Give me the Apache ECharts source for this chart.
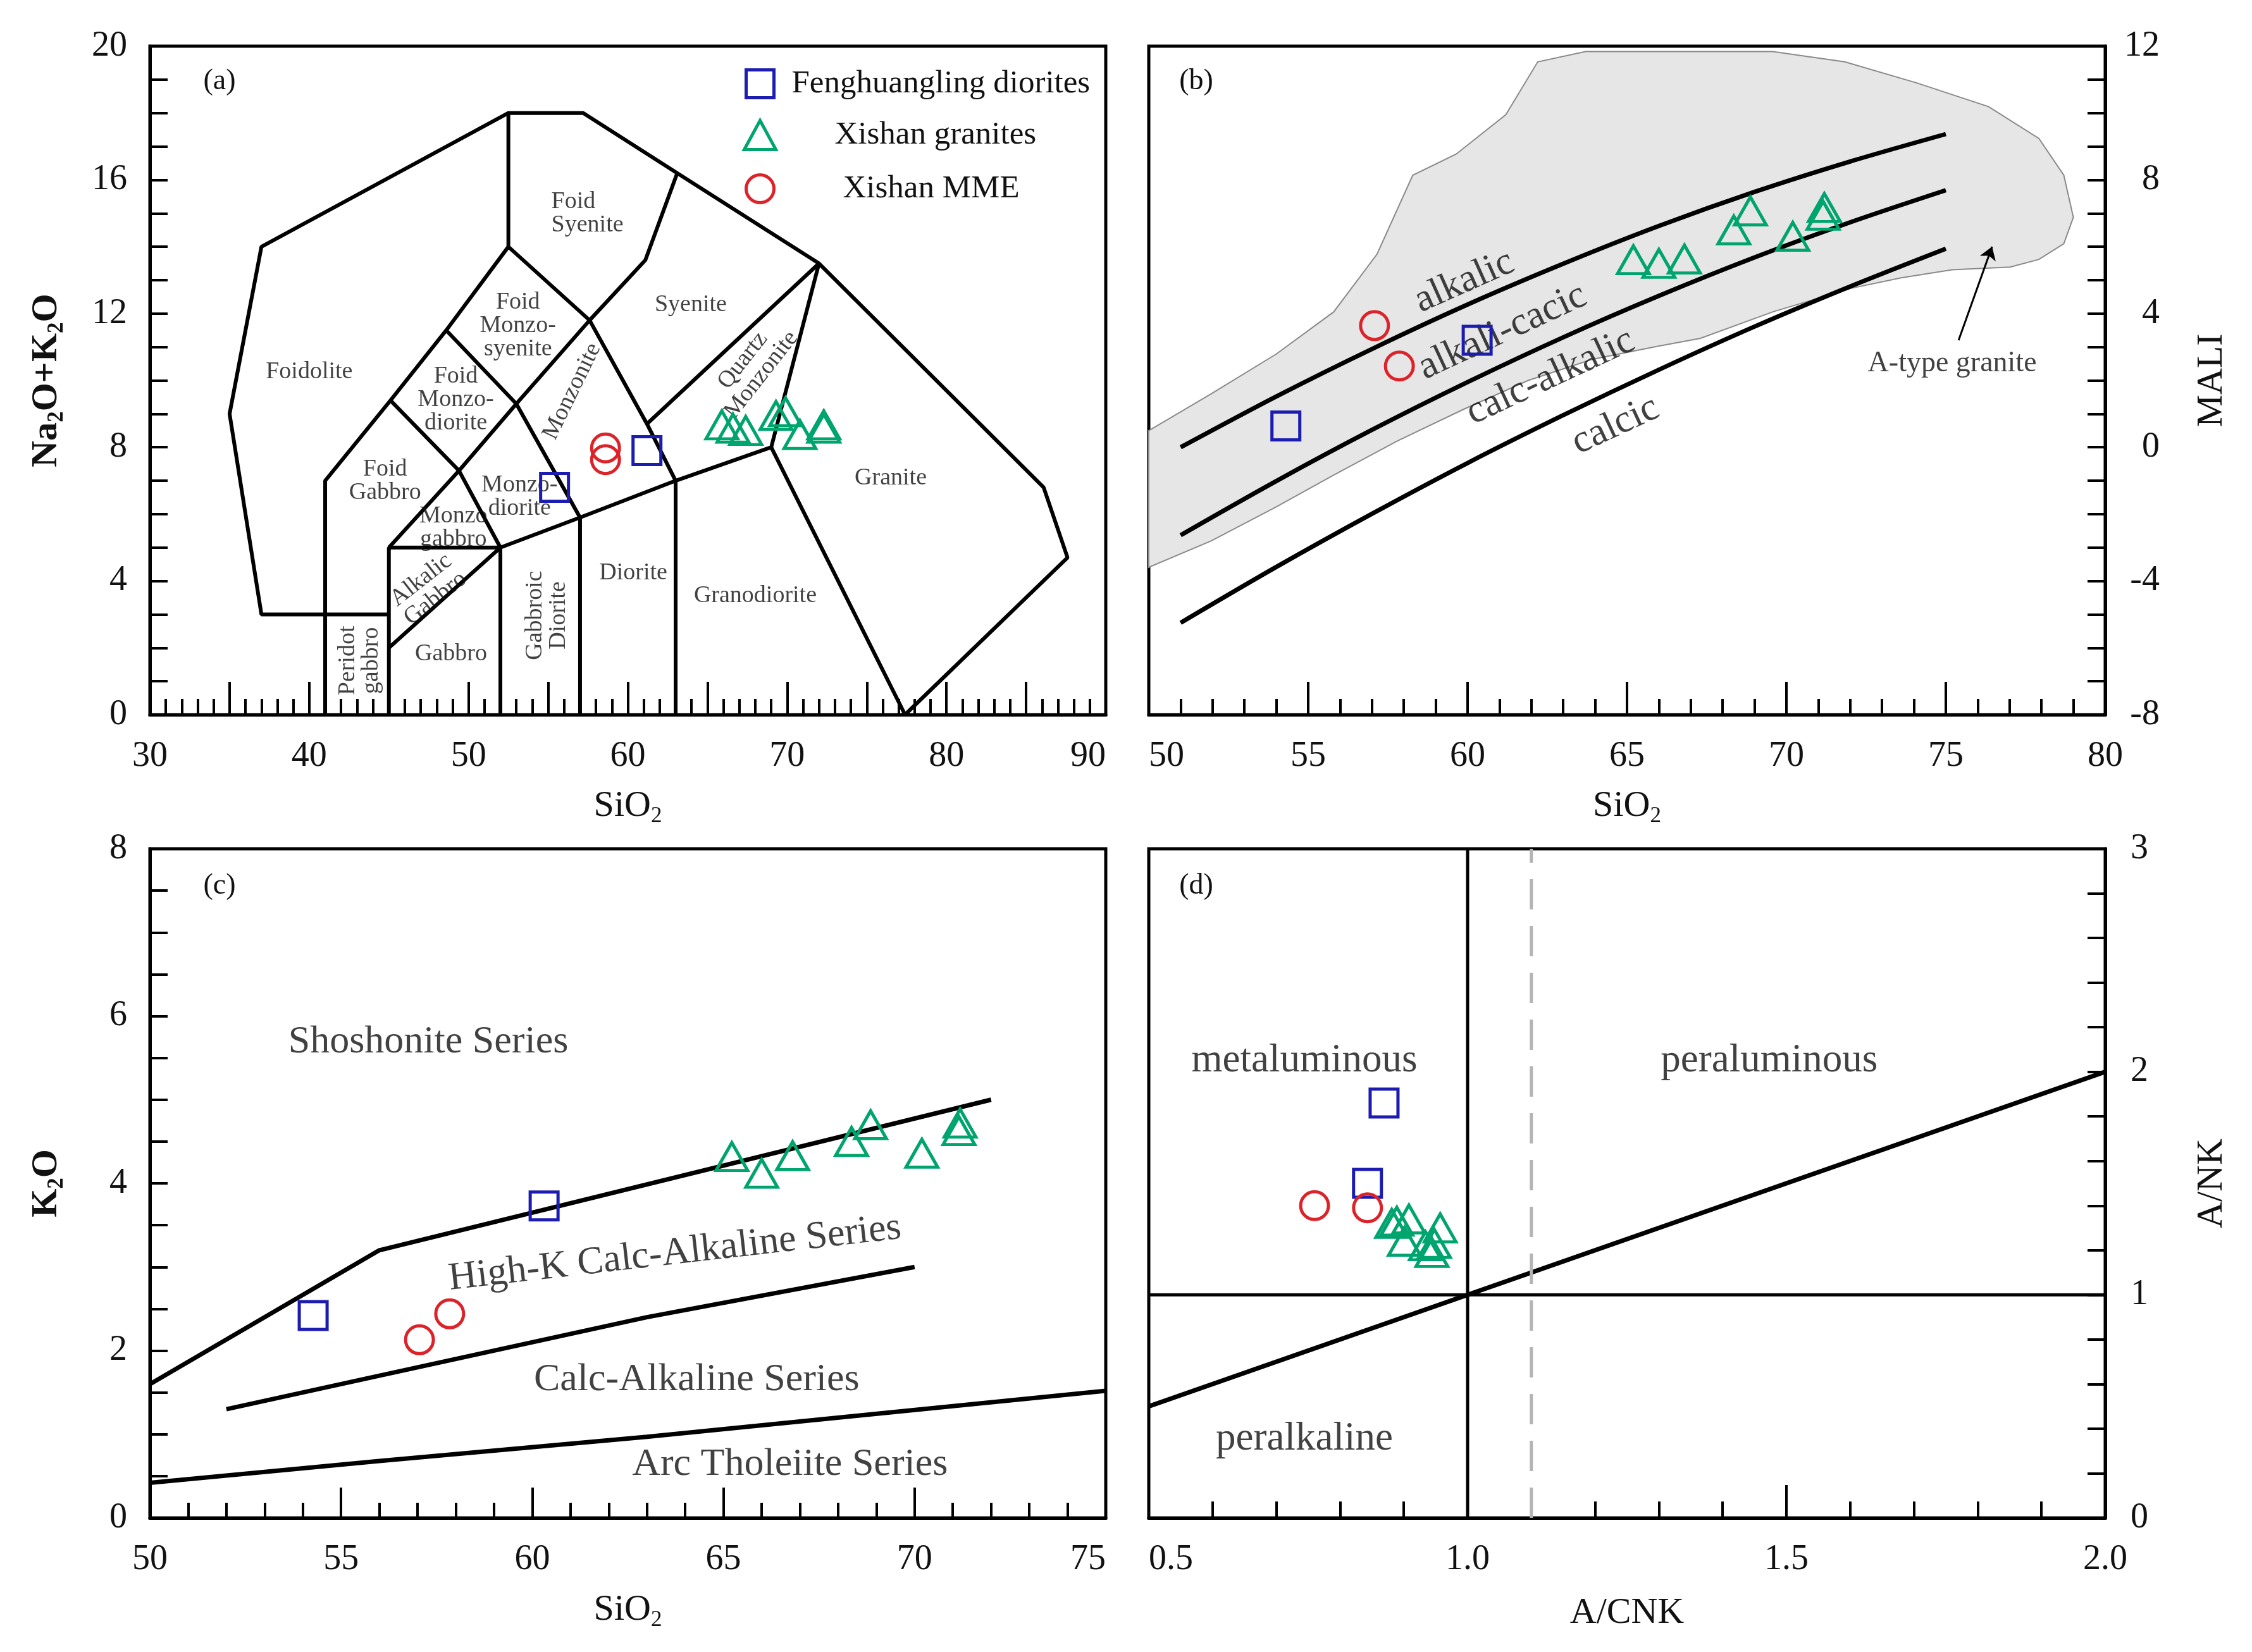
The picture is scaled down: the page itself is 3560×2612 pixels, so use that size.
<!DOCTYPE html>
<html><head><meta charset="utf-8">
<script src="https://cdn.jsdelivr.net/npm/echarts@6.0.0/dist/echarts.min.js"></script>
<style>html,body{margin:0;padding:0;background:#fff}#c{width:3560px;height:2612px}</style>
</head><body><div id="c"></div>
<script>
// ---------------- data ----------------
const seriesNames = ['Fenghuangling diorites', 'Xishan granites', 'Xishan MME'];

// (a) TAS
const tasDiorites = [[55.4, 6.8], [61.2, 7.9]];
const tasGranites = [[65.9, 8.67], [66.6, 8.57], [67.4, 8.5], [69.3, 8.95], [69.9, 9.06], [70.8, 8.38], [72.3, 8.67], [72.3, 8.57]];
const tasMME = [[58.6, 7.98], [58.6, 7.63]];
// (b) MALI
const maliDiorites = [[54.3, 0.64], [60.3, 3.2]];
const maliGranites = [[65.2, 5.61], [66.0, 5.5], [66.8, 5.63], [68.35, 6.5], [68.87, 7.07], [70.2, 6.31], [71.19, 7.17], [71.15, 6.94]];
const maliMME = [[57.08, 3.64], [57.86, 2.43]];
// (c) K2O
const k2oDiorites = [[54.27, 2.42], [60.31, 3.73]];
const k2oGranites = [[65.22, 4.32], [66.0, 4.12], [66.81, 4.33], [68.35, 4.5], [68.85, 4.7], [70.19, 4.36], [71.19, 4.72], [71.16, 4.63]];
const k2oMME = [[57.05, 2.13], [57.84, 2.44]];
// (d) A/NK vs A/CNK
const acnkDiorites = [[0.869, 1.86], [0.843, 1.5]];
const acnkGranites = [[0.881, 1.32], [0.889, 1.33], [0.908, 1.34], [0.901, 1.24], [0.957, 1.30], [0.934, 1.22], [0.944, 1.19], [0.948, 1.23]];
const acnkMME = [[0.76, 1.4], [0.843, 1.39]];

// (a) classification boundaries
const tasOuter = [[45, 3], [37, 3], [35, 9], [37, 14], [52.5, 18], [57.2, 18], [63.1, 16.2], [72, 13.5], [86.1, 6.8], [87.6, 4.7], [77.4, 0]];
const tasLines = [
  [[41, 0], [41, 7], [45.1, 9.4], [48.6, 11.5], [52.5, 14], [52.5, 18]],
  [[52.5, 14], [57.6, 11.8], [61.1, 13.6], [63.1, 16.2]],
  [[48.6, 11.5], [53, 9.3], [57.6, 11.8]],
  [[45.1, 9.4], [49.4, 7.3], [53, 9.3]],
  [[45, 0], [45, 5], [52, 5]],
  [[45, 5], [49.4, 7.3], [52, 5]],
  [[45, 2], [52, 5], [57, 5.9], [63, 7], [69, 8], [72, 13.5]],
  [[52, 0], [52, 5]],
  [[53, 9.3], [57, 5.9], [57, 0]],
  [[57.6, 11.8], [61.2, 8.7], [63, 7], [63, 0]],
  [[61.2, 8.7], [72, 13.5]],
  [[69, 8], [77.4, 0]]
];
const tasLabels = [
  [40.0, 10.25, 'Foidolite', 0],
  [55.2, 15.0, 'Foid\nSyenite', 0, 'left'],
  [63.95, 12.27, 'Syenite', 0],
  [53.1, 11.64, 'Foid\nMonzo-\nsyenite', 0],
  [49.2, 9.43, 'Foid\nMonzo-\ndiorite', 0],
  [56.5, 9.67, 'Monzonite', 64],
  [67.8, 10.38, 'Quartz\nMonzonite', 52],
  [44.76, 6.99, 'Foid\nGabbro', 0],
  [53.2, 6.51, 'Monzo-\ndiorite', 0],
  [49.05, 5.6, 'Monzo\ngabbro', 0],
  [47.47, 3.75, 'Alkalic\nGabbro', 38],
  [43.18, 1.62, 'Peridot\ngabbro', 90],
  [48.9, 1.81, 'Gabbro', 0],
  [54.92, 2.97, 'Gabbroic\nDiorite', 90],
  [60.34, 4.23, 'Diorite', 0],
  [68.0, 3.55, 'Granodiorite', 0],
  [76.5, 7.07, 'Granite', 0]
];

// (b) boundary curves
const maliAlkalic = [[51, 0.0], [54, 1.52], [57, 2.94], [60, 4.27], [63, 5.49], [66, 6.62], [69, 7.64], [72, 8.55], [75, 9.37]];
const maliAlkCalcic = [[51, -2.63], [54, -1.01], [57, 0.52], [60, 1.95], [63, 3.29], [66, 4.53], [69, 5.68], [72, 6.73], [75, 7.69]];
const maliCalcAlk = [[51, -5.25], [54, -3.58], [57, -1.99], [60, -0.47], [63, 0.96], [66, 2.32], [69, 3.61], [72, 4.81], [75, 5.94]];
const atypeOutline = [
  [50, 0.5], [51.96, 1.6], [54.0, 2.79], [55.8, 4.05], [57.16, 5.78], [58.28, 8.14], [59.64, 8.77], [61.2, 9.95],
  [62.2, 11.53], [63.7, 11.84], [69.57, 11.84], [71.83, 11.53], [74.09, 10.9], [76.34, 10.19], [77.92, 9.24],
  [78.7, 8.14], [79.0, 6.88], [78.7, 6.09], [77.92, 5.62], [77.02, 5.39], [75.2, 5.31], [73.6, 5.07], [72.05, 4.76],
  [69.57, 4.05], [67.3, 3.26], [65.96, 3.02], [63.9, 2.63], [61.9, 2.0], [59.86, 1.13], [57.8, 0.19], [55.8, -0.83],
  [54.0, -1.78], [51.96, -2.8], [50, -3.59]
];
const atypeArrow = [[75.4, 3.2], [76.45, 6.0]];
const maliLabels = [
  [59.9, 4.95, 'alkalic', 24],
  [61.1, 3.45, 'alkali-cacic', 25],
  [62.6, 2.1, 'calc-alkalic', 25],
  [64.64, 0.65, 'calcic', 25]
];
const maliNote = [[75.2, 2.5, 'A-type granite', 0]];

// (c) series boundaries
const k2oLines = [
  [[50, 1.6], [56, 3.2], [72, 5.0]],
  [[52, 1.3], [56, 1.7], [63, 2.4], [70, 3.0]],
  [[50, 0.42], [56, 0.68], [63, 0.97], [75, 1.52]]
];
const k2oLabels = [
  [57.28, 5.69, 'Shoshonite Series', 0],
  [63.73, 3.16, 'High-K Calc-Alkaline Series', 6.5],
  [64.3, 1.65, 'Calc-Alkaline Series', 0],
  [66.74, 0.64, 'Arc Tholeiite Series', 0]
];

// (d) boundaries
const anLines = [
  [[1.0, 0], [1.0, 3]],
  [[0.5, 1.0], [2.0, 1.0]],
  [[0.5, 0.5], [2.0, 2.0]]
];
const anDashed = [[1.1, 0], [1.1, 3]];
const anLabels = [
  [0.744, 2.05, 'metaluminous', 0],
  [1.473, 2.05, 'peraluminous', 0],
  [0.744, 0.354, 'peralkaline', 0]
];

// ---------------- styling ----------------
const FONT = "'Liberation Serif', 'Times New Roman', serif";
const BLUE = '#1c1cb0', GREEN = '#00a46e', RED = '#dc2329';
const INK = '#111';

function scatter(name, data, gi, symbol, color, size) {
  return {
    type: 'scatter', name: name, xAxisIndex: gi, yAxisIndex: gi, data: data,
    symbol: symbol, symbolSize: size, z: 10, silent: true,
    itemStyle: { color: 'rgba(0,0,0,0)', borderColor: color, borderWidth: 5, opacity: 1 }
  };
}
function poly(data, gi, width, extra) {
  return Object.assign({
    type: 'line', xAxisIndex: gi, yAxisIndex: gi, data: data, showSymbol: false, symbol: 'none',
    silent: true, z: 4, lineStyle: { color: '#000', width: width }
  }, extra || {});
}
function texts(items, gi, size) {
  return {
    type: 'scatter', xAxisIndex: gi, yAxisIndex: gi, symbolSize: 1, silent: true, z: 6,
    itemStyle: { color: 'rgba(0,0,0,0)' },
    data: items.map(t => ({ name: t[2], value: [t[0], t[1]], label: { rotate: t[3] || 0, align: t[4] || 'center' } })),
    label: {
      show: true, position: 'inside', formatter: p => p.name, color: INK,
      fontFamily: FONT, fontSize: size, lineHeight: Math.round(size * 0.98), verticalAlign: 'middle'
    }
  };
}
function nameStyle(size, bold) {
  const w = bold ? 'bold' : 'normal';
  return {
    fontFamily: FONT, fontSize: size, color: INK, fontWeight: w,
    rich: {
      m: { fontFamily: FONT, fontSize: size, lineHeight: size, verticalAlign: 'top', color: INK, fontWeight: w },
      s: { fontFamily: FONT, fontSize: Math.round(size * 0.6), lineHeight: Math.round(size * 1.55), color: INK, fontWeight: w }
    }
  };
}
function xAxis(gi, min, max, interval, minorSplit, fmt, name, gap, majorLen, minorLen, labelOpts) {
  return {
    type: 'value', gridIndex: gi, min: min, max: max, interval: interval, position: 'bottom',
    name: name, nameLocation: 'middle', nameGap: gap, nameTextStyle: nameStyle(58, false),
    axisLine: { show: true, onZero: false, lineStyle: { color: '#000', width: 5 } },
    axisTick: { show: true, inside: true, length: majorLen, lineStyle: { color: '#000', width: 4 } },
    minorTick: { show: true, splitNumber: minorSplit, length: minorLen, lineStyle: { color: '#000', width: 4 } },
    axisLabel: Object.assign({ show: true, margin: 38, fontFamily: FONT, fontSize: 56, color: INK, formatter: fmt }, labelOpts || {}),
    splitLine: { show: false }, minorSplitLine: { show: false }
  };
}
function yAxis(gi, min, max, interval, minorSplit, pos, name, gap, bold, labelOpts) {
  return {
    type: 'value', gridIndex: gi, min: min, max: max, interval: interval, position: pos,
    name: name, nameLocation: 'middle', nameGap: gap, nameTextStyle: nameStyle(58, bold),
    axisLine: { show: true, onZero: false, lineStyle: { color: '#000', width: 5 } },
    axisTick: { show: true, inside: true, length: 28, lineStyle: { color: '#000', width: 4 } },
    minorTick: { show: true, splitNumber: minorSplit, length: 28, lineStyle: { color: '#000', width: 4 } },
    axisLabel: Object.assign({ show: true, margin: 36, fontFamily: FONT, fontSize: 56, color: INK }, labelOpts || {}),
    splitLine: { show: false }, minorSplitLine: { show: false }
  };
}

const grids = [
  { left: 237, top: 73, width: 1511, height: 1057 },
  { left: 1816, top: 73, width: 1512, height: 1057 },
  { left: 237, top: 1342, width: 1511, height: 1058 },
  { left: 1816, top: 1342, width: 1512, height: 1058 }
].map(g => Object.assign(g, { show: true, borderColor: '#000', borderWidth: 5, backgroundColor: 'transparent', containLabel: false, outerBoundsMode: 'none' }));

const series = [];
// (a)
series.push(poly(tasOuter, 0, 6));
tasLines.forEach(l => series.push(poly(l, 0, 6)));
series.push(texts(tasLabels, 0, 38));
series.push(scatter(seriesNames[0], tasDiorites, 0, 'rect', BLUE, 44));
series.push(scatter(seriesNames[1], tasGranites, 0, 'triangle', GREEN, [50, 44]));
series.push(scatter(seriesNames[2], tasMME, 0, 'circle', RED, 44));
// (b)
series.push({
  type: 'custom', xAxisIndex: 1, yAxisIndex: 1, silent: true, z: 1, data: atypeOutline,
  encode: { x: 0, y: 1 },
  renderItem: function (params, api) {
    if (params.dataIndex !== 0) return null;
    const pts = atypeOutline.map(p => api.coord(p));
    return { type: 'polygon', shape: { points: pts }, style: { fill: '#e6e6e6', stroke: '#8a8a8a', lineWidth: 2 } };
  }
});
series.push(poly(maliAlkalic, 1, 7, { smooth: 0.3 }));
series.push(poly(maliAlkCalcic, 1, 7, { smooth: 0.3 }));
series.push(poly(maliCalcAlk, 1, 7, { smooth: 0.3 }));
series.push({
  type: 'lines', coordinateSystem: 'cartesian2d', xAxisIndex: 1, yAxisIndex: 1, silent: true, z: 5,
  symbol: ['none', 'arrow'], symbolSize: 20,
  lineStyle: { color: '#000', width: 3, opacity: 1, curveness: 0 },
  data: [{ coords: atypeArrow }]
});
series.push(texts(maliLabels, 1, 62));
series.push(texts(maliNote, 1, 46));
series.push(scatter(seriesNames[0], maliDiorites, 1, 'rect', BLUE, 44));
series.push(scatter(seriesNames[1], maliGranites, 1, 'triangle', GREEN, [50, 44]));
series.push(scatter(seriesNames[2], maliMME, 1, 'circle', RED, 44));
// (c)
k2oLines.forEach(l => series.push(poly(l, 2, 7)));
series.push(texts(k2oLabels, 2, 62));
series.push(scatter(seriesNames[0], k2oDiorites, 2, 'rect', BLUE, 44));
series.push(scatter(seriesNames[1], k2oGranites, 2, 'triangle', GREEN, [50, 44]));
series.push(scatter(seriesNames[2], k2oMME, 2, 'circle', RED, 44));
// (d)
series.push(poly(anLines[0], 3, 5));
series.push(poly(anLines[1], 3, 5));
series.push(poly(anLines[2], 3, 7));
series.push(poly(anDashed, 3, 5, { lineStyle: { color: '#b4b4b4', width: 5, type: [48, 26] } }));
series.push(texts(anLabels, 3, 63));
series.push(scatter(seriesNames[0], acnkDiorites, 3, 'rect', BLUE, 44));
series.push(scatter(seriesNames[1], acnkGranites, 3, 'triangle', GREEN, [50, 44]));
series.push(scatter(seriesNames[2], acnkMME, 3, 'circle', RED, 44));

function legendFor(name, icon, color, left, top, w, h, pad) {
  return {
    show: true, orient: 'vertical', left: left, top: top, padding: 0, itemWidth: w, itemHeight: h,
    selectedMode: false, inactiveColor: color,
    data: [{ name: name, icon: icon, itemStyle: { color: 'rgba(0,0,0,0)', borderColor: color, borderWidth: 5 } }],
    textStyle: { fontFamily: FONT, fontSize: 51, color: INK, padding: [0, 0, 0, pad] }
  };
}

const option = {
  animation: false,
  backgroundColor: '#fff',
  grid: grids,
  xAxis: [
    xAxis(0, 30, 90, 5, 5, v => (v % 10 === 0 ? String(v) : ''), '{m|SiO}{s|2}', 116, 52, 25, { alignMaxLabel: 'right' }),
    xAxis(1, 50, 80, 5, 5, v => String(v), '{m|SiO}{s|2}', 116, 52, 25, { alignMinLabel: 'left' }),
    xAxis(2, 50, 75, 5, 5, v => String(v), '{m|SiO}{s|2}', 117, 48, 24, { alignMaxLabel: 'right' }),
    xAxis(3, 0.5, 2.0, 0.5, 5, v => v.toFixed(1), '{m|A/CNK}', 122, 52, 26, { alignMinLabel: 'left' })
  ],
  yAxis: [
    yAxis(0, 0, 20, 4, 4, 'left', '{m|Na}{s|2}{m|O+K}{s|2}{m|O}', 102, true),
    yAxis(1, -8, 12, 4, 4, 'right', '{m|MALI}', 140, false, { align: 'right', margin: 86 }),
    yAxis(2, 0, 8, 2, 4, 'left', '{m|K}{s|2}{m|O}', 102, true),
    yAxis(3, 0, 3, 1, 5, 'right', '{m|A/NK}', 140, false, { margin: 40 })
  ],
  legend: [
    legendFor(seriesNames[0], 'rect', BLUE, 1177, 107, 44, 44, 23),
    legendFor(seriesNames[1], 'triangle', GREEN, 1174, 188, 50, 46, 88),
    legendFor(seriesNames[2], 'circle', RED, 1177, 273, 44, 44, 104)
  ],
  graphic: [
    { type: 'text', x: 347, y: 129, style: { text: '(a)', fontFamily: FONT, fontSize: 46, fill: INK, align: 'center', verticalAlign: 'middle' } },
    { type: 'text', x: 1891, y: 129, style: { text: '(b)', fontFamily: FONT, fontSize: 46, fill: INK, align: 'center', verticalAlign: 'middle' } },
    { type: 'text', x: 347, y: 1401, style: { text: '(c)', fontFamily: FONT, fontSize: 46, fill: INK, align: 'center', verticalAlign: 'middle' } },
    { type: 'text', x: 1891, y: 1401, style: { text: '(d)', fontFamily: FONT, fontSize: 46, fill: INK, align: 'center', verticalAlign: 'middle' } }
  ],
  series: series
};

const chart = echarts.init(document.getElementById('c'), null, { renderer: 'canvas', width: 3560, height: 2612 });
chart.setOption(option);
</script>
</body></html>
